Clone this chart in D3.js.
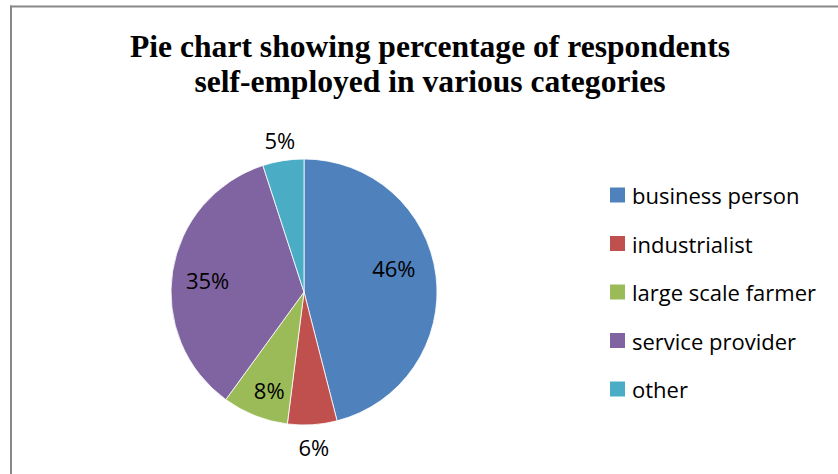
<!DOCTYPE html>
<html>
<head>
<meta charset="utf-8">
<script src="https://cdn.jsdelivr.net/npm/d3@7/dist/d3.min.js"></script>
<style>
  html, body { margin: 0; padding: 0; background: #fff; }
  svg { display: block; }
</style>
</head>
<body>
<svg id="chart" width="838" height="474"></svg>
<script>
// Self-employment categories and their shares (%)
const categories = ["business person", "industrialist", "large scale farmer", "service provider", "other"];
const shares = [46, 6, 8, 35, 5];
const sliceColors = ["#4F81BD", "#C0504D", "#9BBB59", "#8064A2", "#4BACC6"];
// percentage label placement: fraction of the pie radius, and a small turn (degrees) off the slice middle
const labelRadius = [0.70, 1.17, 0.78, 0.73, 1.16];
const labelTurn = [-8, 0, -2, -2, 0];
const titleLines = ["Pie chart showing percentage of respondents", "self-employed in various categories"];

const svg = d3.select("#chart");
const W = 838, H = 474;

// frame: top and left edges only
svg.append("line").attr("x1", 10).attr("x2", W).attr("y1", 6.5).attr("y2", 6.5)
  .attr("stroke", "#888").attr("stroke-width", 2);
svg.append("line").attr("x1", 11).attr("x2", 11).attr("y1", 5.5).attr("y2", H)
  .attr("stroke", "#888").attr("stroke-width", 2);

// title
svg.append("g").selectAll("text").data(titleLines).join("text")
  .attr("x", 430).attr("y", (d, i) => 57 + i * 35)
  .attr("text-anchor", "middle")
  .attr("font-family", "'Liberation Serif', 'Times New Roman', serif")
  .attr("font-weight", "bold").attr("font-size", 31.6)
  .attr("fill", "#000")
  .text(d => d);

// pie
const cx = 304, cy = 292, R = 133;
const data = categories.map((c, i) => ({ category: c, value: shares[i], i }));
const pie = d3.pie().value(d => d.value).sort(null).startAngle(0).endAngle(2 * Math.PI);
const arcs = pie(data);
const arc = d3.arc().innerRadius(0).outerRadius(R);
const color = d3.scaleOrdinal().domain(categories).range(sliceColors);

const g = svg.append("g").attr("transform", `translate(${cx},${cy})`);
g.selectAll("path").data(arcs).join("path")
  .attr("d", arc)
  .attr("fill", d => color(d.data.category))
  .attr("stroke", "#fff").attr("stroke-width", 0.8);

g.selectAll("text").data(arcs).join("text")
  .attr("transform", d => {
    const a = (d.startAngle + d.endAngle) / 2 + labelTurn[d.data.i] * Math.PI / 180;
    const r = R * labelRadius[d.data.i];
    return `translate(${Math.sin(a) * r},${-Math.cos(a) * r})`;
  })
  .attr("text-anchor", "middle").attr("dominant-baseline", "central")
  .attr("font-family", "'Open Sans', 'Noto Sans', sans-serif")
  .attr("font-size", 22).attr("fill", "#000")
  .text(d => d.data.value + "%");

// legend
const legend = svg.append("g").attr("transform", "translate(610,195)");
const rowH = 48.5;
const items = legend.selectAll("g").data(categories).join("g")
  .attr("transform", (d, i) => `translate(0,${i * rowH})`);
items.append("rect").attr("x", 0).attr("y", -7.5).attr("width", 15).attr("height", 15)
  .attr("fill", d => color(d));
items.append("text").attr("x", 22).attr("y", 0)
  .attr("dominant-baseline", "central")
  .attr("font-family", "'Open Sans', 'Noto Sans', sans-serif")
  .attr("font-size", 22).attr("fill", "#000")
  .text(d => d);
</script>
</body>
</html>
